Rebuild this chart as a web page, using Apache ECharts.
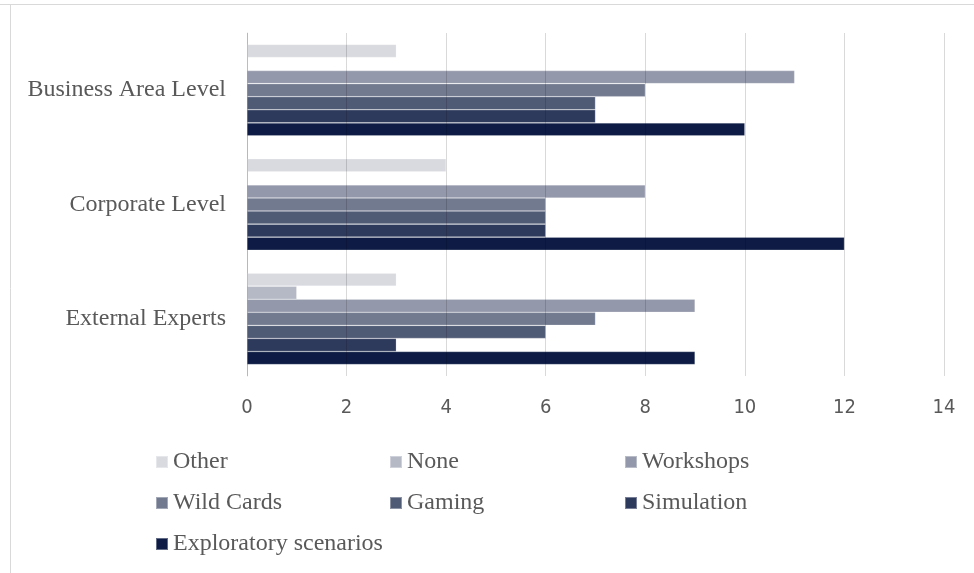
<!DOCTYPE html>
<html>
<head>
<meta charset="utf-8">
<script src="https://cdn.jsdelivr.net/npm/echarts@6/dist/echarts.min.js"></script>
<style>
  html, body { margin: 0; padding: 0; background: #fff; }
  #chart { width: 974px; height: 573px; }
</style>
</head>
<body>
<div id="chart"></div>
<script>
// Categories, bottom to top on the vertical axis
const categories = ['External Experts', 'Corporate Level', 'Business Area Level'];

// Counts per method, in category order above
const other        = [3, 4, 3];
const none         = [1, 0, 0];
const workshops    = [9, 8, 11];
const wildCards    = [7, 6, 8];
const gaming       = [6, 6, 7];
const simulation   = [3, 6, 7];
const exploratory  = [9, 12, 10];

const xTicks = [0, 2, 4, 6, 8, 10, 12, 14];

// Series listed top-down within each category group
const seriesDefs = [
  { name: 'Other',                 data: other,       color: '#d9dae0' },
  { name: 'None',                  data: none,        color: '#b5b9c6' },
  { name: 'Workshops',             data: workshops,   color: '#9398aa' },
  { name: 'Wild Cards',            data: wildCards,   color: '#727a90' },
  { name: 'Gaming',                data: gaming,      color: '#4f5a75' },
  { name: 'Simulation',            data: simulation,  color: '#2e3a5c' },
  { name: 'Exploratory scenarios', data: exploratory, color: '#0e1c45' }
];

const serif = '"Liberation Serif", "Times New Roman", "DejaVu Serif", serif';
const textColor = '#595959';

const legendBase = {
  orient: 'vertical',
  icon: 'rect',
  itemWidth: 12,
  itemHeight: 12,
  itemGap: 17,
  selectedMode: false,
  padding: 0,
  textStyle: { fontFamily: serif, fontSize: 24, color: textColor, lineHeight: 24 }
};

const chart = echarts.init(document.getElementById('chart'), null, { renderer: 'canvas' });

chart.setOption({
  backgroundColor: '#ffffff',
  animation: false,
  graphic: [
    { type: 'line', shape: { x1: 0, y1: 4.5, x2: 974, y2: 4.5 }, style: { stroke: '#d9d9d9', lineWidth: 1 } },
    { type: 'line', shape: { x1: 10.5, y1: 4, x2: 10.5, y2: 573 }, style: { stroke: '#d9d9d9', lineWidth: 1 } }
  ],
  grid: { left: 247, right: 30, top: 33, bottom: 197, containLabel: false },
  xAxis: {
    type: 'value',
    min: xTicks[0],
    max: xTicks[xTicks.length - 1],
    interval: 2,
    z: 10,
    axisLine: { show: false },
    axisTick: { show: false },
    axisLabel: {
      margin: 22,
      fontFamily: '"DejaVu Sans Condensed", "Liberation Sans Narrow", "Open Sans", sans-serif',
      fontSize: 20,
      color: textColor
    },
    splitLine: { show: true, lineStyle: { color: 'rgba(0,0,0,0.15)', width: 1 } }
  },
  yAxis: {
    type: 'category',
    data: categories,
    axisLine: { show: true, lineStyle: { color: '#d9d9d9', width: 1 } },
    axisTick: { show: false },
    axisLabel: { margin: 21, fontFamily: serif, fontSize: 24, color: textColor }
  },
  legend: [
    Object.assign({}, legendBase, { left: 155, top: 450, data: ['Other', 'Wild Cards', 'Exploratory scenarios'] }),
    Object.assign({}, legendBase, { left: 389, top: 450, data: ['None', 'Gaming'] }),
    Object.assign({}, legendBase, { left: 624, top: 450, data: ['Workshops', 'Simulation'] })
  ],
  series: seriesDefs.map(s => ({
    type: 'bar',
    name: s.name,
    data: s.data,
    barGap: '0%',
    barCategoryGap: '20%',
    itemStyle: { color: s.color, borderColor: 'rgba(255,255,255,0.35)', borderWidth: 0.6 },
    emphasis: { disabled: true }
  }))
});
</script>
</body>
</html>
